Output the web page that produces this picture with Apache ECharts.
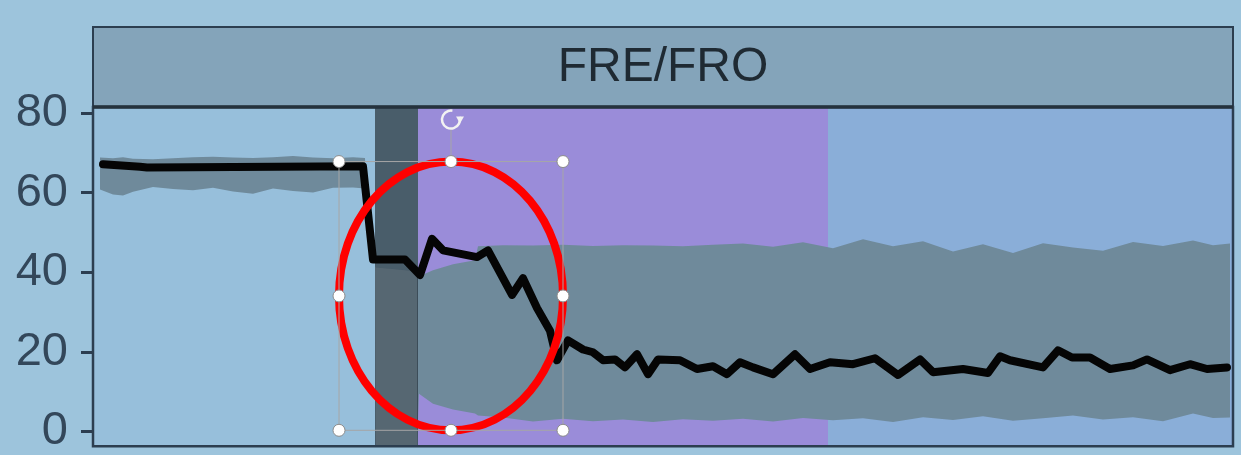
<!DOCTYPE html>
<html>
<head>
<meta charset="utf-8">
<title>FRE/FRO</title>
<script src="https://cdn.jsdelivr.net/npm/echarts@6.0.0/dist/echarts.min.js"></script>
<style>
  html, body { margin: 0; padding: 0; background: #9dc4dc; }
  #chart { width: 1241px; height: 455px; }
</style>
</head>
<body>
<div id="chart"></div>
<script>
// panel title and y ticks
var panelTitle = 'FRE/FRO'
var yTicks = [0, 20, 40, 60, 80]

// phase boundaries on the time axis (baseline / gap / FRE / FRO)
var phaseEdges = [0, 28.2, 32.5, 73.5, 114]

// mean trace
var meanX = [1.0, 4.7, 5.4, 27.0, 28.0, 31.2, 32.7, 33.9, 35.0, 38.4, 39.5, 41.9, 43.0, 44.4,
  45.7, 46.4, 47.5, 49.0, 50.0, 51.0, 52.2, 53.2, 54.4, 55.5, 56.5, 58.7, 60.4, 62.0, 63.4,
  64.7, 66.0, 68.0, 70.2, 71.7, 73.7, 76.0, 78.2, 80.5, 82.7, 84.0, 87.0, 89.5, 90.7, 91.7,
  95.0, 96.5, 97.9, 99.7, 101.7, 104.0, 105.4, 107.7, 109.7, 111.4, 113.4]
var meanY = [67.1, 66.5, 66.3, 66.6, 43.2, 43.2, 39.3, 48.4, 45.5, 43.8, 45.5, 34.3, 38.5, 31.0,
  25.3, 17.9, 22.9, 20.6, 19.9, 17.9, 18.1, 16.1, 19.4, 14.4, 18.1, 17.9, 15.7, 16.4, 14.4,
  17.4, 16.1, 14.4, 19.4, 15.7, 17.4, 16.9, 18.4, 14.2, 18.1, 14.9, 15.7, 14.7, 18.9, 17.9,
  16.1, 20.4, 18.6, 18.6, 15.7, 16.6, 18.1, 15.4, 16.9, 15.7, 16.1]

// spread of the individual traces (upper / lower envelope)
var bandX = [0.7, 2, 3, 4, 6, 8, 10, 12, 14, 16, 18, 20, 22, 24, 26, 27.2, 27.3, 28.2, 28.3,
  30, 32.4, 32.6, 34, 36, 38.2, 38.5, 41, 44, 47, 50, 53, 56, 59, 62, 65, 68, 71, 74, 77, 80,
  83, 86, 89, 92, 95, 98, 101, 104, 107, 110, 112, 113.7]
var bandUpper = [68.8, 68.6, 68.9, 68.5, 68.4, 68.6, 68.9, 69.0, 68.8, 68.7, 68.9, 69.2, 68.8,
  68.6, 68.9, 68.7, 61.0, 41.5, 41.2, 40.8, 40.2, 39.0, 40.5, 42.0, 43.0, 46.5, 46.8, 46.7,
  46.9, 46.6, 46.8, 46.7, 46.5, 46.9, 47.2, 46.4, 47.5, 46.0, 48.3, 46.5, 47.8, 45.2, 47.0,
  44.8, 47.3, 46.2, 45.4, 47.6, 46.6, 48.0, 46.8, 47.2]
var bandLower = [60.8, 59.5, 59.3, 60.2, 61.4, 60.9, 60.6, 61.2, 60.3, 59.7, 61.0, 60.4, 60.0,
  61.2, 61.3, 61.0, 61.0, 41.5, -3.7, -3.7, -3.7, 9.5, 7.0, 5.5, 4.5, 4.0, 3.5, 2.5, 3.2, 2.6,
  3.0, 2.4, 3.1, 2.7, 3.2, 2.5, 3.4, 2.8, 3.3, 2.4, 3.6, 2.9, 3.8, 2.7, 3.3, 4.0, 3.0, 3.6,
  2.6, 4.5, 3.4, 3.5]

var phaseColors = ['#97bfdb', 'rgba(40,52,62,0.72)', '#9a8cd9', '#8aaed8']
var phaseData = []
var gapData = []
for (var i = 0; i < phaseEdges.length - 1; i++) {
  var item = [phaseEdges[i], phaseEdges[i + 1], i]
  if (i === 1) gapData.push(item)
  else phaseData.push(item)
}
var meanData = meanX.map(function (x, i) { return [x, meanY[i]] })
var bandData = bandX.map(function (x, i) { return [x, bandLower[i], bandUpper[i]] })

function phaseRect(params, api) {
  var a = api.coord([api.value(0), 0])
  var b = api.coord([api.value(1), 0])
  var cs = params.coordSys
  return {
    type: 'rect',
    shape: { x: a[0], y: cs.y, width: b[0] - a[0], height: cs.height },
    style: { fill: phaseColors[api.value(2)] }
  }
}

function bandPoints(x0, x1, api) {
  var pts = []
  for (var i = 0; i < bandX.length; i++) {
    if (bandX[i] >= x0 && bandX[i] <= x1) pts.push(api.coord([bandX[i], bandUpper[i]]))
  }
  for (var j = bandX.length - 1; j >= 0; j--) {
    if (bandX[j] >= x0 && bandX[j] <= x1) pts.push(api.coord([bandX[j], bandLower[j]]))
  }
  return pts
}

function renderBand(params, api) {
  if (params.dataIndex !== 0) return null
  return {
    type: 'polygon',
    shape: { points: bandPoints(-Infinity, Infinity, api) },
    style: { fill: '#6f8a9b' }
  }
}

// dark gap strip, the traces show through it a little
function renderGap(params, api) {
  return {
    type: 'group',
    children: [
      phaseRect(params, api),
      {
        type: 'polygon',
        shape: { points: bandPoints(api.value(0), api.value(1), api) },
        style: { fill: 'rgba(150,165,175,0.3)' }
      }
    ]
  }
}

var chartDom = document.getElementById('chart')
var myChart = echarts.init(chartDom)
var option = {
  backgroundColor: '#9dc4dc',
  animation: false,
  grid: { left: 93, right: 8, top: 107, bottom: 5 },
  xAxis: {
    type: 'value',
    min: 0,
    max: 114,
    show: false
  },
  yAxis: {
    type: 'value',
    min: -3.7,
    max: 81.5,
    splitLine: { show: false },
    axisLine: { show: false },
    axisTick: {
      show: true,
      length: 12,
      customValues: yTicks,
      lineStyle: { color: '#2c3e50', width: 3 }
    },
    axisLabel: {
      customValues: yTicks,
      margin: 25,
      fontSize: 47,
      fontFamily: 'Liberation Sans',
      color: '#33475a'
    }
  },
  series: [
    {
      type: 'custom',
      name: 'phase',
      z: 1,
      silent: true,
      renderItem: phaseRect,
      encode: { x: [0, 1] },
      data: phaseData
    },
    {
      type: 'custom',
      name: 'spread',
      z: 2,
      silent: true,
      renderItem: renderBand,
      encode: { x: 0, y: [1, 2] },
      data: bandData
    },
    {
      type: 'custom',
      name: 'gap',
      z: 3,
      silent: true,
      renderItem: renderGap,
      encode: { x: [0, 1] },
      data: gapData
    },
    {
      type: 'line',
      name: 'mean',
      z: 4,
      showSymbol: false,
      symbol: 'none',
      lineStyle: { color: '#050505', width: 8, join: 'round', cap: 'round' },
      data: meanData
    }
  ]
}
myChart.setOption(option)

// strip header, panel border and the red callout on top
var cs = myChart.getModel().getComponent('grid', 0).coordinateSystem.getRect()
var p0 = myChart.convertToPixel({ gridIndex: 0 }, [24.6, 67.8])
var p1 = myChart.convertToPixel({ gridIndex: 0 }, [47.0, 0.3])
var cx = (p0[0] + p1[0]) / 2
var cy = (p0[1] + p1[1]) / 2
var handles = []
;[[p0[0], p0[1]], [cx, p0[1]], [p1[0], p0[1]], [p0[0], cy], [p1[0], cy],
  [p0[0], p1[1]], [cx, p1[1]], [p1[0], p1[1]]].forEach(function (p) {
  handles.push({
    type: 'circle',
    z: 110,
    shape: { cx: p[0], cy: p[1], r: 6 },
    style: { fill: '#ffffff', stroke: '#8c8c8c', lineWidth: 1 }
  })
})

myChart.setOption({
  graphic: [
    {
      type: 'rect',
      z: 100,
      shape: { x: cs.x, y: 27, width: cs.width, height: cs.y - 27 },
      style: { fill: '#84a4ba', stroke: '#2c3e50', lineWidth: 2 }
    },
    {
      type: 'text',
      z: 101,
      x: cs.x + cs.width / 2,
      y: 68,
      style: {
        text: panelTitle,
        fontSize: 48,
        fontFamily: 'Liberation Sans',
        fill: '#1f2a33',
        align: 'center',
        verticalAlign: 'middle'
      }
    },
    {
      type: 'rect',
      z: 100,
      shape: { x: cs.x, y: cs.y, width: cs.width, height: cs.height },
      style: { fill: 'none', stroke: '#2c3e50', lineWidth: 2.5 }
    },
    {
      type: 'line',
      z: 100,
      shape: { x1: cs.x, y1: cs.y, x2: cs.x + cs.width, y2: cs.y },
      style: { stroke: '#25323d', lineWidth: 3.5 }
    },
    {
      type: 'ellipse',
      z: 105,
      shape: { cx: cx, cy: cy, rx: (p1[0] - p0[0]) / 2, ry: (p1[1] - p0[1]) / 2 },
      style: { fill: 'none', stroke: '#ff0000', lineWidth: 8 }
    },
    {
      type: 'rect',
      z: 106,
      shape: { x: p0[0], y: p0[1], width: p1[0] - p0[0], height: p1[1] - p0[1] },
      style: { fill: 'none', stroke: '#a6a6a6', lineWidth: 1 }
    },
    {
      type: 'line',
      z: 106,
      shape: { x1: cx, y1: p0[1] - 32, x2: cx, y2: p0[1] },
      style: { stroke: '#a6a6a6', lineWidth: 1 }
    },
    {
      type: 'arc',
      z: 107,
      shape: { cx: cx, cy: p0[1] - 42, r: 9, startAngle: -Math.PI * 0.1, endAngle: Math.PI * 1.55, clockwise: true },
      style: { fill: 'none', stroke: '#f2f2f2', lineWidth: 2.5 }
    },
    {
      type: 'polygon',
      z: 107,
      shape: { points: [[cx + 5, p0[1] - 45], [cx + 13, p0[1] - 45], [cx + 9, p0[1] - 38]] },
      style: { fill: '#f2f2f2' }
    }
  ].concat(handles)
})
</script>
</body>
</html>
